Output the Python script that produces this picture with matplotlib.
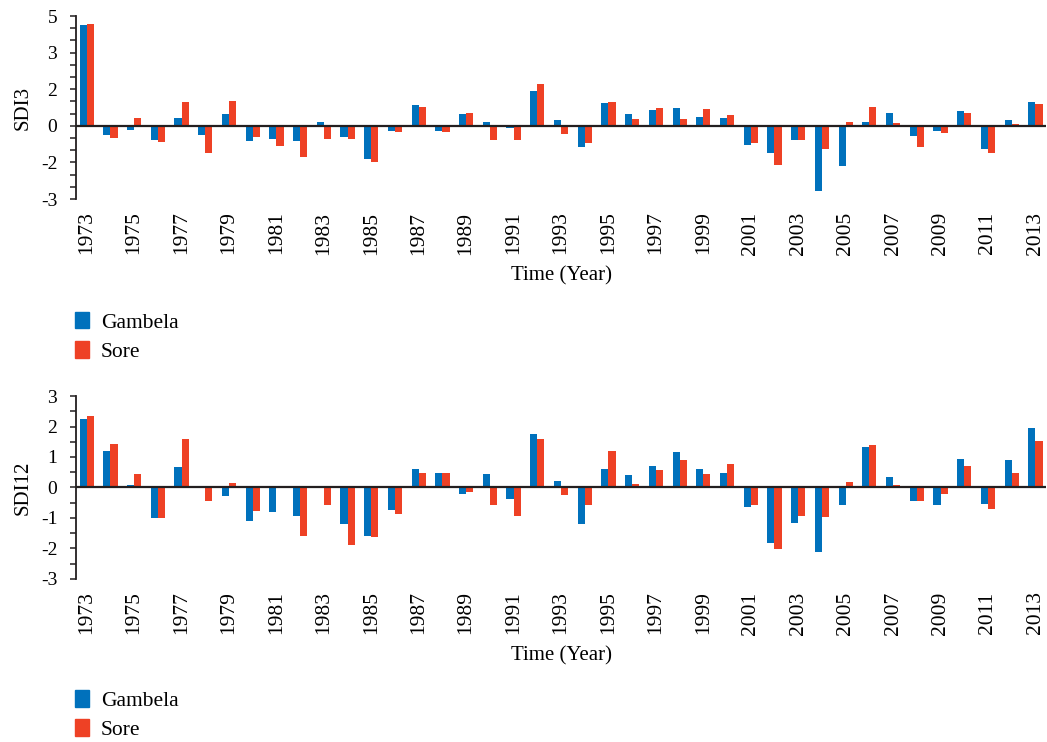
import numpy as np
import matplotlib
matplotlib.use("Agg")
import matplotlib.pyplot as plt
from matplotlib.patches import Patch

# -----------------------------
# Data
# -----------------------------
years = list(range(1973, 2014))

# SDI3 values (plotted on the figure's own quirky y scale)
sdi3_gambela = [4.14, -0.37, -0.16, -0.57, 0.33, -0.37, 0.49, -0.61, -0.53, -0.61,
                0.16, -0.45, -1.35, -0.20, 0.86, -0.20, 0.49, 0.16, -0.08, 1.43,
                0.25, -0.86, 0.94, 0.49, 0.66, 0.74, 0.37, 0.33, -0.78, -1.11,
                -0.57, -2.66, -1.64, 0.16, 0.53, -0.41, -0.20, 0.61, -0.94, 0.25,
                0.98]
sdi3_sore = [4.18, -0.49, 0.33, -0.66, 0.98, -1.11, 1.02, -0.45, -0.82, -1.27,
             -0.53, -0.53, -1.48, -0.25, 0.78, -0.25, 0.53, -0.57, -0.57, 1.72,
             -0.33, -0.70, 0.98, 0.29, 0.74, 0.29, 0.70, 0.45, -0.70, -1.60,
             -0.57, -0.94, 0.16, 0.78, 0.12, -0.86, -0.29, 0.53, -1.11, 0.08,
             0.90]

sdi12_gambela = [2.26, 1.19, 0.08, -1.01, 0.66, 0.04, -0.27, -1.10, -0.80, -0.93,
                 0.04, -1.19, -1.58, -0.74, 0.60, 0.47, -0.22, 0.45, -0.37, 1.76,
                 0.21, -1.20, 0.62, 0.42, 0.69, 1.18, 0.62, 0.47, -0.64, -1.82,
                 -1.18, -2.10, -0.56, 1.33, 0.33, -0.43, -0.57, 0.95, -0.53, 0.91,
                 1.96]
sdi12_sore = [2.36, 1.41, 0.44, -0.99, 1.60, -0.44, 0.15, -0.76, 0.04, -1.58,
              -0.59, -1.88, -1.63, -0.86, 0.47, 0.47, -0.16, -0.56, -0.92, 1.60,
              -0.23, -0.59, 1.20, 0.11, 0.59, 0.90, 0.44, 0.78, -0.57, -2.02,
              -0.92, -0.98, 0.19, 1.40, 0.08, -0.43, -0.22, 0.71, -0.69, 0.49,
              1.51]

sdi3_ticks = [-3, -1.5, 0, 1.5, 3, 4.5]
sdi3_ticklabels = ["-3", "-2", "0", "2", "3", "5"]
sdi12_ticks = [-3, -2, -1, 0, 1, 2, 3]

BLUE = "#0071BC"
RED = "#EE4125"
FONT = "Liberation Serif"

plt.rcParams["font.family"] = FONT
plt.rcParams["font.size"] = 14

fig = plt.figure(figsize=(10.47, 7.42), dpi=100)

def draw_panel(rect, gambela, sore, ylim, ticks, ticklabels, ylabel):
    ax = fig.add_axes(rect)
    x = np.arange(len(years))
    w = 0.3
    ax.bar(x - w / 2, gambela, width=w, color=BLUE, zorder=2)
    ax.bar(x + w / 2, sore, width=w, color=RED, zorder=2)
    ax.axhline(0, color="#231F20", lw=1.6, zorder=3)

    ax.set_xlim(-0.45, len(years) - 0.55)
    ax.set_ylim(*ylim)
    ax.set_yticks(ticks)
    ax.set_yticklabels(ticklabels)
    ax.set_yticks(np.arange(ylim[0], ylim[1] + 0.01, 0.5), minor=True)
    ax.tick_params(axis="y", which="both", direction="out", length=4.5,
                   width=1.1, color="#231F20", pad=9, labelsize=14)

    ax.set_xticks(x[::2])
    ax.set_xticklabels([str(y) for y in years[::2]], rotation=90)
    ax.tick_params(axis="x", length=0, pad=9, labelsize=15.5)

    for s in ["top", "right", "bottom"]:
        ax.spines[s].set_visible(False)
    ax.spines["left"].set_linewidth(1.3)
    ax.spines["left"].set_color("#231F20")

    ax.set_ylabel(ylabel, fontsize=15, labelpad=6)
    ax.set_xlabel("Time (Year)", fontsize=15, labelpad=8)
    return ax

ax1 = draw_panel([0.0726, 0.7318, 0.9265, 0.2466], sdi3_gambela, sdi3_sore,
                 (-3, 4.5), sdi3_ticks, sdi3_ticklabels, "SDI3")
ax2 = draw_panel([0.0726, 0.2197, 0.9265, 0.2466], sdi12_gambela, sdi12_sore,
                 (-3, 3), sdi12_ticks, [str(t) for t in sdi12_ticks], "SDI12")

handles = [Patch(color=BLUE, label="Gambela"), Patch(color=RED, label="Sore")]
for y0 in [0.5795, 0.070]:
    fig.legend(handles=handles, loc="upper left", bbox_to_anchor=(0.0716, y0),
               frameon=False, borderpad=0, borderaxespad=0, handlelength=0.65,
               handleheight=0.8, handletextpad=0.55, labelspacing=0.4,
               fontsize=15.5)

fig.savefig("out.png", dpi=100)
